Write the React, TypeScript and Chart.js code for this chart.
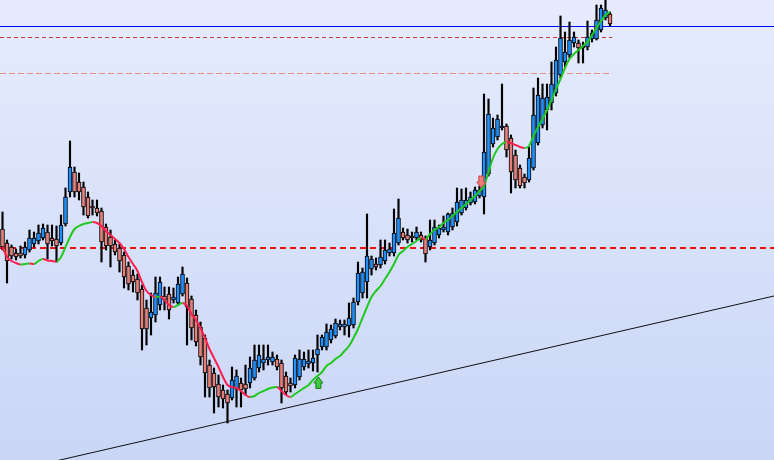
import React, { useEffect, useRef } from "react";
import { Chart, registerables } from "chart.js";

Chart.register(...registerables);

// OHLC values (price units), one per bar, left to right
const opens = [231,217,213,207,207,205,210,216,219,222,228,222,221,217,236,268,288,278,273,263,254,252,249,233,223,216,212,205,194,185,181,171,152,142,145,155,164,166,160,157,166,177,161,145,133,122,95,87,76,70,66,62,71,77,76,77,82,92,97,100,98,101,97,84,77,75,83,93,96,97,105,113,113,120,124,133,133,134,135,158,167,178,191,196,195,199,207,207,217,228,225,224,222,225,222,213,217,225,230,228,233,238,247,252,257,258,264,263,286,316,323,332,334,322,305,292,283,280,292,317,335,350,357,367,385,398,405,417,417,414,413,421,421,430,442,446];
const highs = [248,220,215,211,214,218,230,228,235,236,235,235,234,245,272,319,293,287,278,268,260,260,252,236,230,220,216,208,198,190,186,175,160,167,183,183,173,173,172,183,193,182,164,150,138,125,100,92,85,75,70,93,90,82,95,103,115,115,115,115,108,105,100,88,82,105,110,108,110,110,125,125,136,135,141,140,140,157,162,198,192,246,204,202,220,220,217,251,261,232,231,228,233,228,224,240,240,235,244,247,252,272,271,272,268,273,274,366,361,342,345,376,336,325,310,295,286,313,372,382,376,376,398,413,444,428,438,428,420,418,439,430,455,455,460,448];
const lows = [210,177,201,200,202,202,208,213,216,220,201,214,198,215,234,263,263,260,245,242,245,244,198,210,193,205,188,172,170,168,160,110,115,125,138,150,150,141,157,155,164,115,120,114,95,63,63,47,53,52,37,60,53,53,65,72,80,88,90,95,95,90,57,65,68,72,80,90,92,89,88,110,110,117,122,130,125,123,132,155,162,162,185,190,192,196,204,204,215,220,217,218,220,218,198,210,215,222,228,225,230,234,245,250,255,256,262,246,284,313,320,330,303,267,272,272,272,278,290,315,332,330,350,364,382,393,402,413,397,397,410,418,420,428,440,434];
const closes = [213,199,204,203,204,213,222,222,227,232,216,219,214,235,263,293,268,268,253,244,252,247,218,214,214,208,199,183,176,178,167,131,131,148,167,178,160,150,163,176,186,153,132,118,103,87,72,73,63,61,57,80,84,70,71,92,100,105,101,103,103,93,72,68,74,102,101,101,99,102,111,123,128,131,137,136,136,142,158,187,188,204,201,193,203,210,211,227,242,222,220,222,228,220,206,220,233,232,233,246,247,258,260,260,263,270,270,308,346,332,341,334,310,288,280,274,277,302,345,365,362,363,376,400,422,408,420,423,412,412,423,427,440,452,450,436];

// Moving average that follows the bars
const maValues = [213,203,199,197,195.5,196,196.5,196,199,201,199.5,199,198.5,203,213,223,231,234,236,237,238,237,234,229,225,221,217,211,203,196,189,178,169,165,163,163.5,160,155,153,155,157,154,146,140,132,122,111,102,93,83,75,73,72,69,65,63,64,67,69,71,72.5,73,69,65,63,66,69,72,75,80,84,88,94,97,101,104,109,114,122,131,142,153,163,169,174,181,188,196,205,209,213,216,219,222,221,226,230,233,237,240,244,248,252,256,260,264,269,274,288,302,311,316,318,317,315,313,312,314,324,333,341,350,360,371,381,392,401,406,410,414,418,425,432,439,445,448];

// Horizontal levels
const resistanceLevel = 433.5;
const upperDashedLevel = 422.5;
const lowerDashedLevel = 386.5;
const supportLevel = 212;
const shortLevelEnd = 135.5;

// Trend line (bar index, price)
const trendX = [-0.56, 171.44];
const trendY = [-13.8, 164];

// Signal arrows (bar index, price at arrow tip)
const buyArrowX = [70.2];
const buyArrowY = [83];
const sellArrowX = [106.4];
const sellArrowY = [272];

const X_MIN = -0.5556;
const X_MAX = 171.4444;

const UP_COLOR = "#1e90ff";
const DOWN_COLOR = "#e8807a";
const MA_UP = "#1ec81e";
const MA_DOWN = "#ff1f4f";

const backgroundPlugin = {
  id: "bgGradient",
  beforeDraw(chart: any) {
    const { ctx, width, height } = chart;
    const g = ctx.createLinearGradient(0, 0, 0, height);
    g.addColorStop(0, "#e6ecfd");
    g.addColorStop(1, "#c9d6f6");
    ctx.save();
    ctx.fillStyle = g;
    ctx.fillRect(0, 0, width, height);
    ctx.restore();
  },
};

const arrowPlugin = {
  id: "signalArrows",
  afterDatasetsDraw(chart: any) {
    const { ctx, scales } = chart;
    const xs = scales.x;
    const ys = scales.y;
    ctx.save();
    ctx.lineWidth = 1;
    buyArrowX.forEach((xv, k) => {
      const cx = xs.getPixelForValue(xv);
      const top = ys.getPixelForValue(buyArrowY[k]);
      ctx.beginPath();
      ctx.moveTo(cx, top);
      ctx.lineTo(cx + 4.5, top + 6);
      ctx.lineTo(cx + 2.5, top + 6);
      ctx.lineTo(cx + 2.5, top + 11.5);
      ctx.lineTo(cx - 2.5, top + 11.5);
      ctx.lineTo(cx - 2.5, top + 6);
      ctx.lineTo(cx - 4.5, top + 6);
      ctx.closePath();
      ctx.fillStyle = "#3cc83c";
      ctx.fill();
      ctx.strokeStyle = "#1a7f1a";
      ctx.stroke();
    });
    sellArrowX.forEach((xv, k) => {
      const cx = xs.getPixelForValue(xv);
      const tip = ys.getPixelForValue(sellArrowY[k]);
      ctx.beginPath();
      ctx.moveTo(cx, tip);
      ctx.lineTo(cx + 4.5, tip - 6);
      ctx.lineTo(cx + 2.5, tip - 6);
      ctx.lineTo(cx + 2.5, tip - 12);
      ctx.lineTo(cx - 2.5, tip - 12);
      ctx.lineTo(cx - 2.5, tip - 6);
      ctx.lineTo(cx - 4.5, tip - 6);
      ctx.closePath();
      ctx.fillStyle = "#f07a78";
      ctx.fill();
      ctx.strokeStyle = "#c84848";
      ctx.stroke();
    });
    ctx.restore();
  },
};

export default function App() {
  const canvasRef = useRef<HTMLCanvasElement | null>(null);

  useEffect(() => {
    if (!canvasRef.current) return;
    const idx = opens.map((_, i) => i);
    const bodyData = idx.map((i) => ({ x: i, y: [opens[i], closes[i]] }));
    const wickData = idx.map((i) => ({ x: i, y: [lows[i], highs[i]] }));
    const bodyColors = idx.map((i) => (closes[i] >= opens[i] ? UP_COLOR : DOWN_COLOR));
    const maData = idx.map((i) => ({ x: i, y: maValues[i] }));

    const levelLine = (y: number, xEnd: number, color: string, width: number, dash: number[]) => ({
      type: "line" as const,
      data: [
        { x: X_MIN, y },
        { x: xEnd, y },
      ],
      borderColor: color,
      borderWidth: width,
      borderDash: dash,
      pointRadius: 0,
      tension: 0,
      order: 20,
    });

    const chart = new Chart(canvasRef.current, {
      type: "bar",
      data: {
        datasets: [
          levelLine(resistanceLevel, X_MAX, "#0000ff", 1, []),
          levelLine(upperDashedLevel, shortLevelEnd, "#c43a3a", 1, [4, 3]),
          levelLine(lowerDashedLevel, shortLevelEnd, "#e8907e", 1, [6, 3]),
          levelLine(supportLevel, X_MAX, "#ee1111", 2, [6, 4]),
          {
            type: "line" as const,
            data: trendX.map((x, k) => ({ x, y: trendY[k] })),
            borderColor: "#111111",
            borderWidth: 1,
            pointRadius: 0,
            tension: 0,
            order: 20,
          },
          {
            type: "bar" as const,
            data: wickData as any,
            backgroundColor: "#000000",
            borderWidth: 0,
            barThickness: 1.5,
            grouped: false,
            order: 6,
          } as any,
          {
            type: "bar" as const,
            data: bodyData as any,
            backgroundColor: bodyColors,
            borderColor: "#000000",
            borderWidth: 1,
            borderSkipped: false,
            barThickness: 4,
            grouped: false,
            order: 5,
          } as any,
          {
            type: "line" as const,
            data: maData,
            borderWidth: 2,
            pointRadius: 0,
            cubicInterpolationMode: "monotone",
            segment: {
              borderColor: (c: any) => (c.p1.parsed.y >= c.p0.parsed.y ? MA_UP : MA_DOWN),
            },
            borderColor: MA_UP,
            order: 2,
          } as any,
        ],
      },
      options: {
        responsive: false,
        animation: false,
        devicePixelRatio: 1,
        events: [],
        layout: { padding: 0 },
        plugins: { legend: { display: false }, tooltip: { enabled: false } },
        scales: {
          x: { type: "linear", min: X_MIN, max: X_MAX, display: false, offset: false },
          y: { type: "linear", min: 0, max: 460, display: false },
        },
      },
      plugins: [backgroundPlugin, arrowPlugin],
    });
    return () => chart.destroy();
  }, []);

  return (
    <div style={{ position: "absolute", left: 0, top: 0, width: 774, height: 460 }}>
      <canvas ref={canvasRef} width={774} height={460} style={{ display: "block" }} />
    </div>
  );
}
